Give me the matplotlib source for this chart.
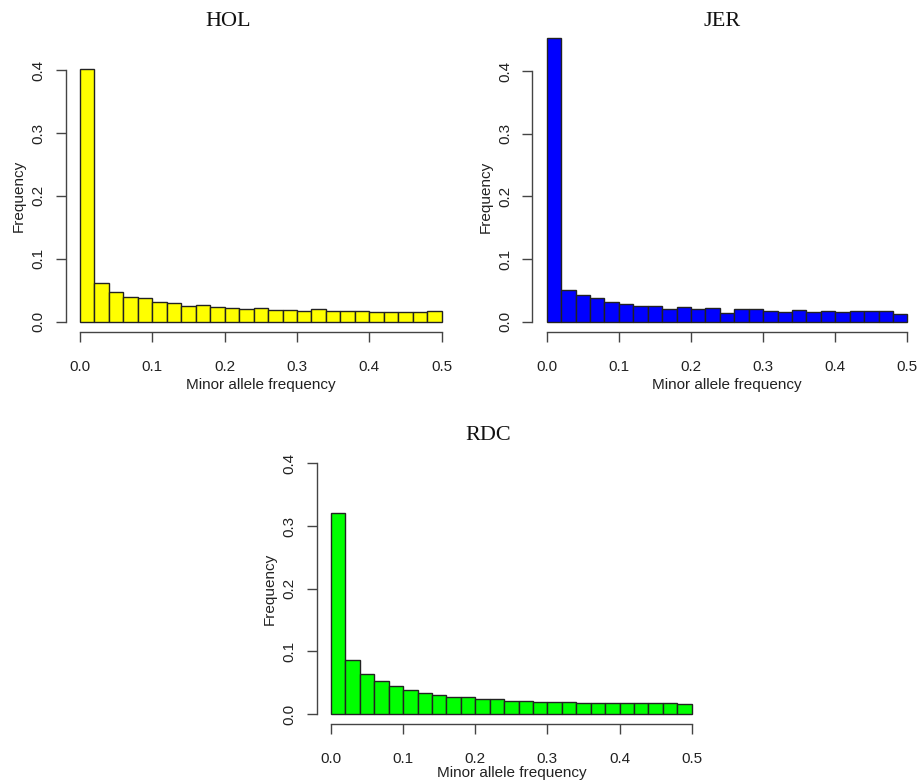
import numpy as np
import matplotlib
matplotlib.use("Agg")
import matplotlib.pyplot as plt

# minor allele frequency histograms, 25 bins of width 0.02
bin_width = 0.02
bin_starts = np.arange(25) * bin_width

hol_freq = [0.401, 0.062, 0.047, 0.040, 0.037, 0.031, 0.030, 0.025, 0.027, 0.024,
            0.022, 0.021, 0.022, 0.019, 0.019, 0.0175, 0.0196, 0.0164, 0.0175, 0.017,
            0.016, 0.016, 0.0154, 0.015, 0.0175]
jer_freq = [0.453, 0.0505, 0.042, 0.038, 0.031, 0.0277, 0.0245, 0.0255, 0.020, 0.024,
            0.021, 0.022, 0.0144, 0.020, 0.0197, 0.0176, 0.0149, 0.018, 0.016, 0.0176,
            0.0154, 0.017, 0.017, 0.017, 0.0117]
rdc_freq = [0.320, 0.0856, 0.064, 0.053, 0.0447, 0.039, 0.0335, 0.030, 0.0277, 0.0266,
            0.0245, 0.0234, 0.020, 0.020, 0.0197, 0.019, 0.0186, 0.018, 0.0176, 0.0176,
            0.0176, 0.017, 0.017, 0.017, 0.016]

x_ticks = [0.0, 0.1, 0.2, 0.3, 0.4, 0.5]
y_ticks = [0.0, 0.1, 0.2, 0.3, 0.4]

W, H = 922, 782
fig = plt.figure(figsize=(W / 100, H / 100), dpi=100)
plt.rcParams["font.family"] = ["Liberation Sans", "DejaVu Sans"]


def px_axes(left, top, width, bottom):
    return fig.add_axes([left / W, 1 - bottom / H, width / W, (bottom - top) / H])


def draw_hist(ax, values, color, title, title_xy, xlabel_pad=3):
    ax.bar(bin_starts, values, width=bin_width, align="edge", color=color,
           edgecolor="#222222", linewidth=1.0, clip_on=False)
    ax.set_xlim(-0.02, 0.52)
    ax.set_ylim(-0.016, 0.416)
    for side in ["top", "right"]:
        ax.spines[side].set_visible(False)
    ax.spines["left"].set_bounds(0, 0.4)
    ax.spines["bottom"].set_bounds(0, 0.5)
    for side in ["left", "bottom"]:
        ax.spines[side].set_color("#444444")
        ax.spines[side].set_linewidth(1.0)
    ax.set_xticks(x_ticks)
    ax.set_xticklabels(["%.1f" % t for t in x_ticks])
    ax.set_yticks(y_ticks)
    ax.set_yticklabels(["%.1f" % t for t in y_ticks], rotation=90, va="center")
    ax.tick_params(axis="both", length=7.5, width=1.0, color="#444444",
                   labelsize=11, labelcolor="#222222")
    ax.tick_params(axis="x", pad=12.5)
    ax.tick_params(axis="y", pad=7)
    ax.set_xlabel("Minor allele frequency", fontsize=11, color="#222222",
                  labelpad=xlabel_pad)
    ax.set_ylabel("Frequency", fontsize=11, color="#222222", labelpad=4)
    fig.text(title_xy[0] / W, 1 - title_xy[1] / H, title, family="Liberation Serif",
             fontsize=16, ha="center", va="center", color="#111111")


ax1 = px_axes(65.5, 60, 390.6, 331.8)
draw_hist(ax1, hol_freq, "#FFFF00", "HOL", (228, 21))

ax2 = px_axes(532.3, 61, 389.5, 331.8)
draw_hist(ax2, jer_freq, "#0000FF", "JER", (722, 21))

ax3 = px_axes(316.6, 453.3, 389.5, 724)
draw_hist(ax3, rdc_freq, "#00FF00", "RDC", (488, 435), xlabel_pad=0)

fig.savefig("out.png", dpi=100)
